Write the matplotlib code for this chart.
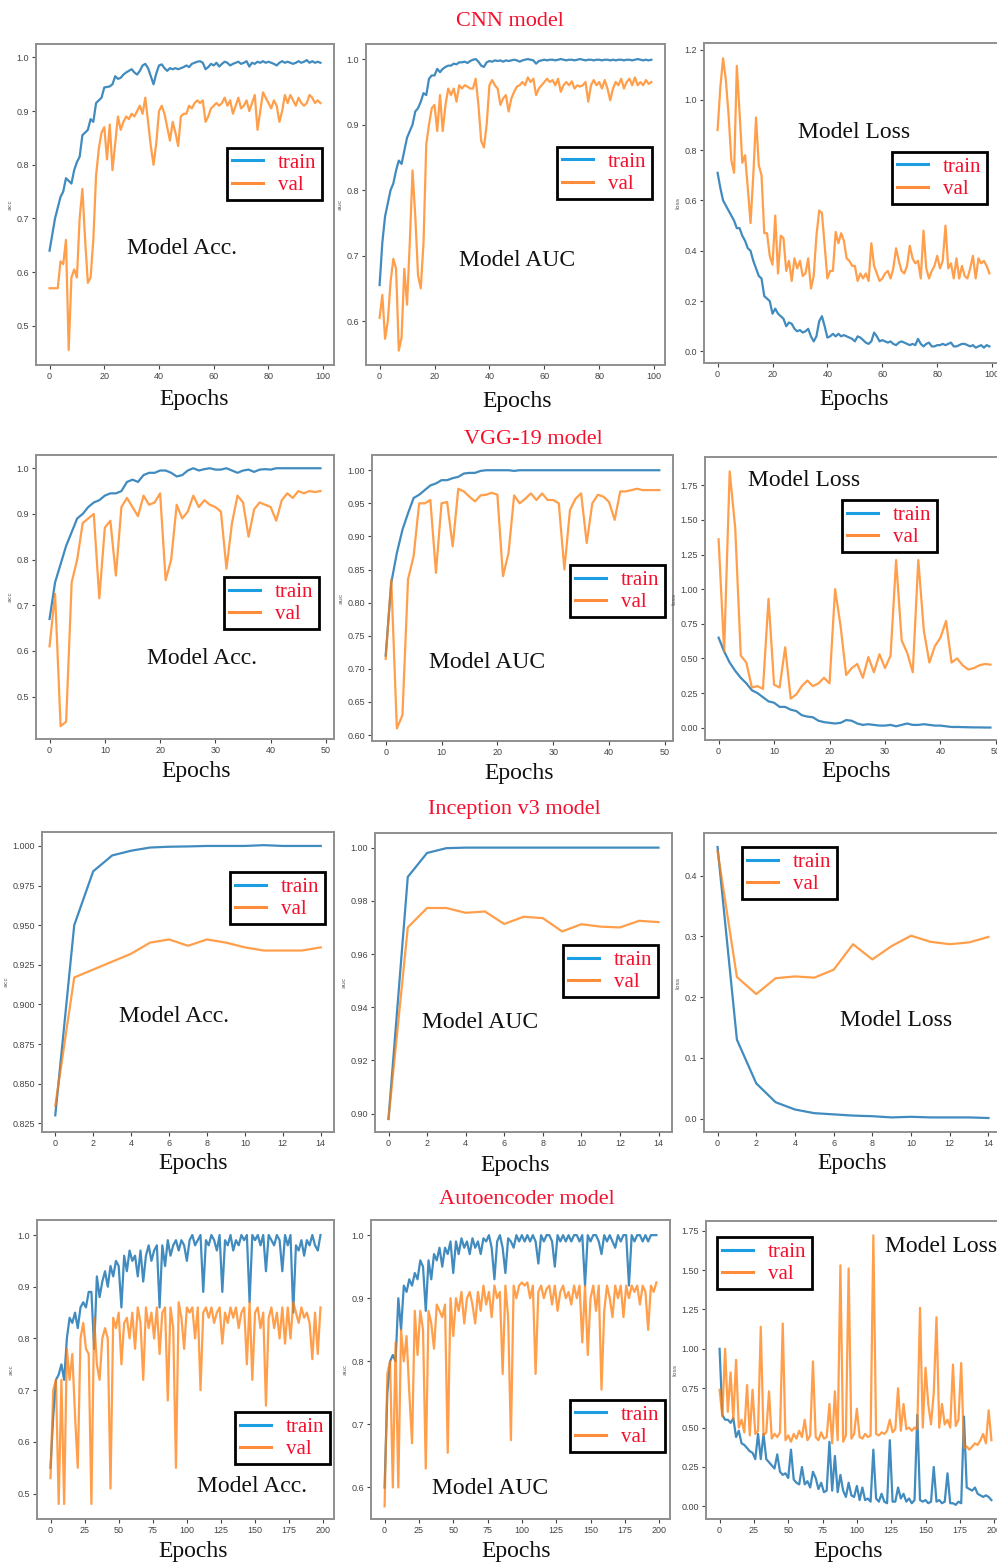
import numpy as np
import matplotlib
matplotlib.use("Agg")
import matplotlib.pyplot as plt
from matplotlib.lines import Line2D

W, H = 997, 1565

# ---------------- CNN (100 epochs) ----------------
cnn_epochs = np.arange(100)
cnn_acc_train = [
    0.64, 0.67, 0.70, 0.72, 0.74, 0.75, 0.775, 0.77, 0.765, 0.79,
    0.805, 0.815, 0.855, 0.86, 0.865, 0.885, 0.88, 0.915, 0.92, 0.925,
    0.944, 0.945, 0.946, 0.95, 0.965, 0.96, 0.962, 0.968, 0.972, 0.975,
    0.978, 0.972, 0.968, 0.975, 0.985, 0.988, 0.98, 0.965, 0.95, 0.97,
    0.985, 0.987, 0.98, 0.975, 0.98, 0.978, 0.98, 0.978, 0.98, 0.982,
    0.985, 0.982, 0.988, 0.99, 0.992, 0.993, 0.99, 0.978, 0.982, 0.988,
    0.985, 0.99, 0.983, 0.988, 0.992, 0.99, 0.985, 0.988, 0.99, 0.992,
    0.988, 0.99, 0.993, 0.983, 0.99, 0.988, 0.992, 0.99, 0.993, 0.99,
    0.992, 0.99, 0.988, 0.985, 0.99, 0.993, 0.99, 0.992, 0.99, 0.988,
    0.99, 0.993, 0.99, 0.992, 0.995, 0.99, 0.993, 0.99, 0.992, 0.99]
cnn_acc_val = [
    0.57, 0.57, 0.57, 0.57, 0.62, 0.615, 0.66, 0.455, 0.59, 0.605,
    0.59, 0.70, 0.755, 0.66, 0.58, 0.59, 0.66, 0.78, 0.83, 0.86,
    0.87, 0.81, 0.875, 0.79, 0.84, 0.89, 0.865, 0.88, 0.89, 0.885,
    0.895, 0.89, 0.90, 0.91, 0.895, 0.925, 0.88, 0.835, 0.80, 0.84,
    0.90, 0.91, 0.895, 0.87, 0.845, 0.88, 0.86, 0.835, 0.89, 0.895,
    0.895, 0.91, 0.905, 0.915, 0.92, 0.915, 0.92, 0.88, 0.89, 0.905,
    0.91, 0.915, 0.91, 0.915, 0.925, 0.91, 0.92, 0.895, 0.91, 0.925,
    0.905, 0.91, 0.92, 0.90, 0.915, 0.93, 0.865, 0.90, 0.935, 0.925,
    0.915, 0.905, 0.92, 0.91, 0.88, 0.90, 0.93, 0.915, 0.93, 0.92,
    0.91, 0.925, 0.915, 0.91, 0.915, 0.93, 0.925, 0.915, 0.92, 0.915]
cnn_auc_train = [
    0.655, 0.72, 0.76, 0.78, 0.80, 0.81, 0.83, 0.845, 0.84, 0.86,
    0.88, 0.89, 0.90, 0.92, 0.925, 0.935, 0.948, 0.945, 0.97, 0.975,
    0.975, 0.985, 0.98, 0.985, 0.988, 0.99, 0.99, 0.993, 0.992, 0.995,
    0.995, 0.996, 0.994, 0.997, 0.999, 1.0, 0.996, 0.99, 0.988, 0.995,
    0.997, 0.996, 0.998, 0.997, 0.998, 0.996, 0.998, 0.997, 0.998, 0.999,
    0.998, 0.996, 0.998, 0.999, 1.0, 0.999, 0.998, 0.993, 0.997, 0.998,
    0.999, 0.998, 0.999, 0.999, 0.998, 0.999, 1.0, 0.999, 0.998, 0.999,
    0.999, 0.998, 0.999, 1.0, 0.999, 0.998, 0.999, 0.999, 0.998, 0.999,
    0.999, 0.998, 0.999, 0.999, 0.998, 0.999, 0.998, 0.999, 0.999, 0.998,
    0.999, 0.999, 0.998, 0.999, 1.0, 0.999, 0.998, 0.999, 0.998, 0.999]
cnn_auc_val = [
    0.605, 0.64, 0.573, 0.60, 0.66, 0.695, 0.68, 0.555, 0.575, 0.68,
    0.625, 0.72, 0.83, 0.76, 0.67, 0.65, 0.72, 0.87, 0.90, 0.925,
    0.93, 0.89, 0.945, 0.89, 0.93, 0.955, 0.945, 0.955, 0.935, 0.96,
    0.955, 0.96, 0.958, 0.955, 0.955, 0.97, 0.93, 0.875, 0.865, 0.90,
    0.96, 0.968, 0.96, 0.955, 0.93, 0.94, 0.945, 0.92, 0.94, 0.95,
    0.958, 0.96, 0.965, 0.96, 0.972, 0.965, 0.97, 0.945, 0.955, 0.96,
    0.965, 0.97, 0.965, 0.968, 0.96, 0.97, 0.95, 0.96, 0.965, 0.96,
    0.966, 0.955, 0.96, 0.958, 0.96, 0.965, 0.935, 0.96, 0.968, 0.96,
    0.965, 0.955, 0.968, 0.955, 0.937, 0.955, 0.965, 0.96, 0.97, 0.955,
    0.965, 0.97, 0.96, 0.972, 0.96, 0.965, 0.96, 0.968, 0.962, 0.965]
cnn_loss_train = [
    0.71, 0.65, 0.60, 0.58, 0.56, 0.54, 0.52, 0.49, 0.49, 0.46,
    0.44, 0.41, 0.40, 0.36, 0.33, 0.30, 0.29, 0.22, 0.21, 0.20,
    0.15, 0.17, 0.15, 0.14, 0.13, 0.10, 0.115, 0.11, 0.09, 0.08,
    0.085, 0.075, 0.08, 0.09, 0.06, 0.04, 0.06, 0.12, 0.14, 0.10,
    0.055, 0.06, 0.07, 0.06, 0.07, 0.06, 0.065, 0.06, 0.055, 0.05,
    0.04, 0.06, 0.055, 0.045, 0.035, 0.03, 0.04, 0.075, 0.06, 0.04,
    0.045, 0.04, 0.035, 0.04, 0.03, 0.025, 0.035, 0.04, 0.035, 0.03,
    0.025, 0.03, 0.025, 0.05, 0.03, 0.02, 0.03, 0.035, 0.02, 0.02,
    0.025, 0.025, 0.03, 0.025, 0.03, 0.035, 0.02, 0.02, 0.025, 0.03,
    0.03, 0.025, 0.02, 0.025, 0.015, 0.02, 0.025, 0.015, 0.025, 0.02]
cnn_loss_val = [
    0.88, 1.05, 1.165, 1.08, 0.94, 0.76, 0.71, 1.135, 0.95, 0.75,
    0.78, 0.65, 0.51, 0.70, 0.93, 0.74, 0.70, 0.47, 0.47, 0.38,
    0.345, 0.54, 0.31, 0.46, 0.45, 0.32, 0.36, 0.28, 0.37, 0.33,
    0.36, 0.30, 0.31, 0.37, 0.25, 0.30, 0.46, 0.56, 0.55, 0.42,
    0.29, 0.32, 0.32, 0.475, 0.43, 0.47, 0.44, 0.37, 0.36, 0.34,
    0.34, 0.28, 0.31, 0.29, 0.31, 0.28, 0.43, 0.34, 0.31, 0.28,
    0.29, 0.31, 0.32, 0.29, 0.33, 0.41, 0.36, 0.32, 0.31, 0.34,
    0.42, 0.37, 0.35, 0.36, 0.29, 0.48, 0.33, 0.29, 0.32, 0.34,
    0.38, 0.33, 0.36, 0.50, 0.33, 0.35, 0.29, 0.37, 0.29, 0.34,
    0.30, 0.29, 0.33, 0.38, 0.29, 0.37, 0.35, 0.36, 0.34, 0.31]

# ---------------- VGG-19 (50 epochs) ----------------
vgg_epochs = np.arange(50)
vgg_acc_train = [
    0.67, 0.75, 0.79, 0.83, 0.86, 0.89, 0.90, 0.915, 0.925, 0.93,
    0.94, 0.945, 0.945, 0.95, 0.97, 0.975, 0.97, 0.985, 0.99, 0.99,
    0.995, 0.995, 0.99, 0.982, 0.985, 0.995, 1.0, 0.995, 0.998, 1.0,
    0.997, 0.997, 1.0, 0.995, 0.99, 0.995, 0.997, 0.992, 0.997, 0.998,
    0.997, 1.0, 1.0, 1.0, 1.0, 1.0, 1.0, 1.0, 1.0, 1.0]
vgg_acc_val = [
    0.61, 0.725, 0.435, 0.445, 0.75, 0.80, 0.88, 0.89, 0.90, 0.715,
    0.87, 0.885, 0.765, 0.915, 0.935, 0.915, 0.895, 0.94, 0.92, 0.925,
    0.945, 0.755, 0.80, 0.92, 0.89, 0.905, 0.94, 0.915, 0.93, 0.92,
    0.915, 0.905, 0.78, 0.88, 0.94, 0.925, 0.85, 0.91, 0.925, 0.92,
    0.915, 0.885, 0.93, 0.945, 0.935, 0.95, 0.945, 0.95, 0.948, 0.95]
vgg_auc_train = [
    0.72, 0.83, 0.875, 0.91, 0.935, 0.958, 0.963, 0.97, 0.977, 0.98,
    0.985, 0.985, 0.988, 0.99, 0.995, 0.996, 0.996, 0.999, 1.0, 1.0,
    1.0, 1.0, 1.0, 0.999, 1.0, 1.0, 1.0, 1.0, 1.0, 1.0,
    1.0, 1.0, 1.0, 1.0, 1.0, 1.0, 1.0, 1.0, 1.0, 1.0,
    1.0, 1.0, 1.0, 1.0, 1.0, 1.0, 1.0, 1.0, 1.0, 1.0]
vgg_auc_val = [
    0.715, 0.835, 0.61, 0.63, 0.835, 0.87, 0.95, 0.95, 0.955, 0.845,
    0.95, 0.952, 0.885, 0.972, 0.968, 0.96, 0.953, 0.962, 0.963, 0.966,
    0.963, 0.84, 0.875, 0.962, 0.95, 0.957, 0.965, 0.955, 0.965, 0.955,
    0.955, 0.95, 0.85, 0.94, 0.957, 0.965, 0.89, 0.95, 0.963, 0.96,
    0.952, 0.925, 0.968, 0.968, 0.97, 0.972, 0.97, 0.97, 0.97, 0.97]
vgg_loss_train = [
    0.65, 0.55, 0.47, 0.41, 0.36, 0.32, 0.27, 0.25, 0.22, 0.19,
    0.18, 0.15, 0.15, 0.13, 0.12, 0.09, 0.08, 0.075, 0.05, 0.04,
    0.035, 0.03, 0.035, 0.055, 0.05, 0.03, 0.02, 0.025, 0.02, 0.015,
    0.015, 0.02, 0.01, 0.02, 0.03, 0.02, 0.02, 0.025, 0.02, 0.015,
    0.015, 0.01, 0.005, 0.005, 0.004, 0.003, 0.002, 0.002, 0.001, 0.001]
vgg_loss_val = [
    1.36, 0.55, 1.85, 1.44, 0.52, 0.47, 0.29, 0.30, 0.28, 0.93,
    0.31, 0.29, 0.58, 0.21, 0.24, 0.30, 0.34, 0.30, 0.32, 0.36,
    0.32, 1.00, 0.73, 0.38, 0.43, 0.46, 0.36, 0.51, 0.40, 0.53,
    0.43, 0.52, 1.21, 0.63, 0.54, 0.40, 1.21, 0.70, 0.47, 0.59,
    0.65, 0.77, 0.47, 0.50, 0.45, 0.42, 0.43, 0.45, 0.46, 0.455]

# ---------------- Inception v3 (15 epochs) ----------------
inc_epochs = np.arange(15)
inc_acc_train = [0.83, 0.95, 0.984, 0.994, 0.997, 0.999, 0.9995, 0.9997,
                 1.0, 1.0, 1.0, 1.0005, 1.0, 1.0, 1.0]
inc_acc_val = [0.836, 0.917, 0.922, 0.927, 0.932, 0.939, 0.941, 0.937,
               0.941, 0.939, 0.936, 0.934, 0.934, 0.934, 0.936]
inc_auc_train = [0.898, 0.989, 0.998, 0.9998, 1.0, 1.0, 1.0, 1.0,
                 1.0, 1.0, 1.0, 1.0, 1.0, 1.0, 1.0]
inc_auc_val = [0.898, 0.970, 0.9773, 0.9773, 0.9755, 0.976, 0.9713, 0.974,
               0.9735, 0.9685, 0.9712, 0.9703, 0.970, 0.9725, 0.972]
inc_loss_train = [0.447, 0.13, 0.058, 0.027, 0.015, 0.009, 0.007, 0.005,
                  0.004, 0.002, 0.003, 0.002, 0.002, 0.002, 0.001]
inc_loss_val = [0.44, 0.233, 0.205, 0.231, 0.234, 0.232, 0.245, 0.287,
                0.262, 0.284, 0.301, 0.291, 0.287, 0.290, 0.299]

# ---------------- Autoencoder (200 epochs, read every 2nd epoch) ----------------
ae_epochs = np.arange(0, 200, 2)
ae_acc_train = [
    0.55, 0.65, 0.72, 0.73, 0.75, 0.72, 0.80, 0.84, 0.83, 0.85,
    0.82, 0.86, 0.87, 0.86, 0.89, 0.89, 0.78, 0.92, 0.88, 0.91,
    0.93, 0.90, 0.94, 0.92, 0.95, 0.94, 0.86, 0.96, 0.93, 0.97,
    0.95, 0.96, 0.92, 0.97, 0.91, 0.96, 0.98, 0.95, 0.97, 0.98,
    0.86, 0.98, 0.94, 0.99, 0.96, 0.98, 0.99, 0.97, 0.99, 0.98,
    0.95, 0.99, 1.0, 0.98, 0.99, 1.0, 0.89, 0.99, 0.98, 1.0,
    0.99, 0.97, 1.0, 0.89, 0.99, 0.98, 1.0, 0.97, 0.99, 0.98,
    1.0, 0.99, 1.0, 0.87, 1.0, 0.99, 1.0, 0.98, 1.0, 0.93,
    1.0, 0.99, 0.98, 1.0, 0.99, 0.93, 1.0, 0.98, 1.0, 0.85,
    0.98, 0.97, 0.99, 0.96, 0.99, 0.98, 1.0, 0.98, 0.97, 1.0]
ae_acc_val = [
    0.53, 0.70, 0.72, 0.48, 0.72, 0.48, 0.78, 0.72, 0.77, 0.65,
    0.55, 0.80, 0.83, 0.78, 0.77, 0.48, 0.84, 0.75, 0.72, 0.80,
    0.82, 0.80, 0.51, 0.84, 0.82, 0.85, 0.75, 0.83, 0.84, 0.80,
    0.85, 0.78, 0.86, 0.83, 0.72, 0.86, 0.82, 0.85, 0.80, 0.86,
    0.77, 0.85, 0.86, 0.68, 0.86, 0.82, 0.55, 0.87, 0.84, 0.78,
    0.86, 0.85, 0.86, 0.80, 0.86, 0.70, 0.85, 0.86, 0.84, 0.86,
    0.83, 0.85, 0.86, 0.79, 0.85, 0.83, 0.86, 0.84, 0.86, 0.82,
    0.85, 0.86, 0.75, 0.87, 0.72, 0.85, 0.86, 0.82, 0.85, 0.67,
    0.84, 0.86, 0.82, 0.85, 0.80, 0.86, 0.79, 0.86, 0.80, 0.87,
    0.85, 0.83, 0.86, 0.84, 0.85, 0.83, 0.76, 0.85, 0.77, 0.86]
ae_auc_train = [
    0.60, 0.75, 0.80, 0.81, 0.80, 0.90, 0.85, 0.92, 0.91, 0.93,
    0.92, 0.94, 0.93, 0.96, 0.95, 0.88, 0.96, 0.93, 0.97, 0.96,
    0.98, 0.95, 0.98, 0.97, 0.99, 0.94, 0.99, 0.97, 0.995, 0.98,
    0.99, 0.97, 0.995, 0.98, 0.99, 0.97, 0.995, 0.99, 1.0, 0.98,
    0.93, 0.99, 1.0, 0.98, 0.94, 0.995, 0.99, 0.98, 1.0, 0.99,
    1.0, 0.99, 1.0, 0.99, 1.0, 0.99, 0.955, 1.0, 0.99, 1.0,
    1.0, 0.99, 0.95, 1.0, 0.99, 1.0, 0.99, 1.0, 0.99, 1.0,
    1.0, 0.99, 1.0, 0.92, 1.0, 0.99, 1.0, 1.0, 0.99, 0.97,
    1.0, 0.99, 1.0, 0.99, 0.98, 1.0, 0.99, 1.0, 1.0, 0.92,
    1.0, 0.99, 1.0, 1.0, 0.99, 1.0, 0.99, 1.0, 1.0, 1.0]
ae_auc_val = [
    0.57, 0.78, 0.80, 0.60, 0.83, 0.60, 0.85, 0.80, 0.84, 0.75,
    0.67, 0.88, 0.81, 0.88, 0.85, 0.63, 0.88, 0.86, 0.82, 0.89,
    0.88, 0.87, 0.89, 0.655, 0.90, 0.84, 0.90, 0.88, 0.91, 0.86,
    0.90, 0.91, 0.89, 0.86, 0.91, 0.88, 0.92, 0.89, 0.91, 0.87,
    0.92, 0.90, 0.91, 0.78, 0.92, 0.87, 0.675, 0.92, 0.90, 0.92,
    0.925, 0.92, 0.925, 0.90, 0.92, 0.78, 0.91, 0.92, 0.90, 0.915,
    0.92, 0.89, 0.92, 0.88, 0.91, 0.92, 0.90, 0.91, 0.89, 0.92,
    0.90, 0.92, 0.83, 0.92, 0.81, 0.90, 0.92, 0.88, 0.92, 0.755,
    0.88, 0.92, 0.90, 0.87, 0.92, 0.90, 0.92, 0.87, 0.92, 0.90,
    0.92, 0.91, 0.92, 0.89, 0.92, 0.91, 0.85, 0.92, 0.91, 0.925]
ae_loss_train = [
    1.00, 0.58, 0.55, 0.55, 0.53, 0.56, 0.44, 0.48, 0.40, 0.39,
    0.37, 0.35, 0.34, 0.30, 0.46, 0.30, 0.46, 0.30, 0.28, 0.26,
    0.24, 0.33, 0.22, 0.20, 0.21, 0.18, 0.36, 0.17, 0.15, 0.14,
    0.25, 0.14, 0.16, 0.12, 0.22, 0.18, 0.11, 0.15, 0.09, 0.10,
    0.41, 0.10, 0.32, 0.09, 0.20, 0.10, 0.06, 0.15, 0.07, 0.06,
    0.13, 0.04, 0.12, 0.04, 0.05, 0.03, 0.36, 0.05, 0.03, 0.08,
    0.03, 0.02, 0.42, 0.03, 0.03, 0.12, 0.05, 0.08, 0.03, 0.05,
    0.02, 0.04, 0.58, 0.04, 0.03, 0.04, 0.02, 0.03, 0.25, 0.03,
    0.04, 0.02, 0.03, 0.21, 0.02, 0.02, 0.01, 0.03, 0.02, 0.57,
    0.12, 0.11, 0.10, 0.12, 0.08, 0.07, 0.06, 0.07, 0.06, 0.04]
ae_loss_val = [
    0.74, 0.57, 1.00, 0.60, 0.85, 0.55, 0.93, 0.50, 0.55, 0.47,
    0.77, 0.45, 0.74, 0.46, 0.48, 1.14, 0.45, 0.47, 0.73, 0.43,
    0.46, 0.44, 0.47, 1.16, 0.42, 0.45, 0.41, 0.46, 0.43, 0.48,
    0.44, 0.55, 0.42, 0.45, 0.92, 0.44, 0.42, 0.47, 0.43, 0.44,
    0.65, 0.40, 0.73, 0.42, 1.53, 0.41, 0.45, 1.51, 0.43, 0.46,
    0.62, 0.44, 0.43, 0.46, 0.44, 0.45, 1.72, 0.46, 0.45, 0.47,
    0.46, 0.48, 0.55, 0.47, 0.49, 0.75, 0.48, 0.65, 0.49, 0.50,
    0.48, 0.50, 0.49, 1.26, 0.50, 0.88, 0.65, 0.52, 0.72, 1.20,
    0.50, 0.65, 0.52, 0.55, 0.50, 0.90, 0.51, 0.55, 0.91, 0.37,
    0.38, 0.36, 0.38, 0.40, 0.39, 0.42, 0.46, 0.40, 0.61, 0.42]

row_titles = ["CNN model", "VGG-19 model", "Inception v3 model", "Autoencoder model"]

BLUE = "#1f77b4"
ORANGE = "#ff7f0e"
RED = "#f5102e"
SERIF = ["Liberation Serif", "DejaVu Serif"]
TICKFONT = ["Liberation Sans Narrow", "Liberation Sans", "DejaVu Sans"]

fig = plt.figure(figsize=(W / 100, H / 100), dpi=100)
fig.patch.set_facecolor("white")


def fx(px):
    return px / W


def fy(py):
    return 1 - py / H


def panel(l, t, r, b, x, tr, va, ylim, yticks, xticks, ylab,
          leg_lt, name, name_c, ep_c):
    ax = fig.add_axes([fx(l), fy(b), (r - l) / W, (b - t) / H])
    ax.plot(x, tr, color=BLUE, lw=1.6, alpha=0.85)
    ax.plot(x, va, color=ORANGE, lw=1.6, alpha=0.75)
    ax.set_ylim(*ylim)
    ax.set_xticks(xticks)
    ax.set_yticks(yticks)
    ax.margins(x=0.05)
    for s in ax.spines.values():
        s.set_color("#8f8f8f")
        s.set_linewidth(1.4)
    ax.tick_params(labelsize=6.5, colors="#444444", length=3, width=0.8, pad=2)
    for lab in ax.get_xticklabels() + ax.get_yticklabels():
        lab.set_family(TICKFONT)
    ax.set_ylabel(ylab, fontsize=4.5, color="#555555", labelpad=3)
    handles = [Line2D([], [], color="#1c9fe2", lw=2.2),
               Line2D([], [], color="#ff8c3a", lw=2.2)]
    leg = ax.legend(handles, ["train", "val"], loc="upper left",
                    bbox_to_anchor=(fx(leg_lt[0]), fy(leg_lt[1])),
                    bbox_transform=fig.transFigure, borderaxespad=0,
                    fancybox=False, framealpha=1, handlelength=1.5,
                    handletextpad=0.7, borderpad=0.25, labelspacing=0.12,
                    prop={"family": SERIF, "size": 15})
    leg.get_frame().set_edgecolor("black")
    leg.get_frame().set_linewidth(2)
    for txt in leg.get_texts():
        txt.set_color(RED)
    fig.text(fx(name_c[0]), fy(name_c[1]), name, family=SERIF, fontsize=17,
             color="#111111", ha="center", va="center")
    fig.text(fx(ep_c[0]), fy(ep_c[1]), "Epochs", family=SERIF, fontsize=17,
             color="#111111", ha="center", va="center")
    return ax


t100 = [0, 20, 40, 60, 80, 100]
t50 = [0, 10, 20, 30, 40, 50]
t15 = [0, 2, 4, 6, 8, 10, 12, 14]
t200 = [0, 25, 50, 75, 100, 125, 150, 175, 200]

# row 1: CNN
panel(36, 44, 334, 365, cnn_epochs, cnn_acc_train, cnn_acc_val, (0.427, 1.025),
      [0.5, 0.6, 0.7, 0.8, 0.9, 1.0], t100, "acc", (227, 148), "Model Acc.", (182, 249), (194, 400))
panel(366, 44, 665, 365, cnn_epochs, cnn_auc_train, cnn_auc_val, (0.533, 1.023),
      [0.6, 0.7, 0.8, 0.9, 1.0], t100, "auc", (557, 147), "Model AUC", (517, 261), (517, 401))
panel(704, 43, 1003, 363, cnn_epochs, cnn_loss_train, cnn_loss_val, (-0.046, 1.226),
      [0.0, 0.2, 0.4, 0.6, 0.8, 1.0, 1.2], t100, "loss", (892, 152), "Model Loss", (854, 133), (854, 400))

# row 2: VGG-19
panel(36, 455, 334, 739, vgg_epochs, vgg_acc_train, vgg_acc_val, (0.407, 1.029),
      [0.5, 0.6, 0.7, 0.8, 0.9, 1.0], t50, "acc", (224, 577), "Model Acc.", (202, 658), (196, 771))
panel(372, 455, 673, 741, vgg_epochs, vgg_auc_train, vgg_auc_val, (0.591, 1.023),
      [0.60, 0.65, 0.70, 0.75, 0.80, 0.85, 0.90, 0.95, 1.00], t50, "auc", (570, 565),
      "Model AUC", (487, 662), (519, 773))
panel(705, 457, 1004, 740, vgg_epochs, vgg_loss_train, vgg_loss_val, (-0.089, 1.954),
      [0.0, 0.25, 0.5, 0.75, 1.0, 1.25, 1.5, 1.75], t50, "loss", (842, 500),
      "Model Loss", (804, 480), (856, 771))

# row 3: Inception v3
panel(42, 832, 334, 1132, inc_epochs, inc_acc_train, inc_acc_val, (0.8195, 1.0088),
      [0.825, 0.85, 0.875, 0.9, 0.925, 0.95, 0.975, 1.0], t15, "acc", (230, 872),
      "Model Acc.", (174, 1017), (193, 1163))
panel(375, 833, 672, 1132, inc_epochs, inc_auc_train, inc_auc_val, (0.8931, 1.0055),
      [0.90, 0.92, 0.94, 0.96, 0.98, 1.00], t15, "auc", (563, 945),
      "Model AUC", (480, 1022), (515, 1165))
panel(704, 833, 1002, 1132, inc_epochs, inc_loss_train, inc_loss_val, (-0.022, 0.47),
      [0.0, 0.1, 0.2, 0.3, 0.4], t15, "loss", (742, 847),
      "Model Loss", (896, 1020), (852, 1163))

# row 4: Autoencoder
panel(37, 1220, 334, 1519, ae_epochs, ae_acc_train, ae_acc_val, (0.451, 1.029),
      [0.5, 0.6, 0.7, 0.8, 0.9, 1.0], t200, "acc", (235, 1412),
      "Model Acc.", (252, 1487), (193, 1551))
panel(371, 1220, 670, 1519, ae_epochs, ae_auc_train, ae_auc_val, (0.55, 1.024),
      [0.6, 0.7, 0.8, 0.9, 1.0], t200, "auc", (570, 1400),
      "Model AUC", (490, 1488), (516, 1552))
panel(706, 1221, 1005, 1519, ae_epochs, ae_loss_train, ae_loss_val, (-0.08, 1.811),
      [0.0, 0.25, 0.5, 0.75, 1.0, 1.25, 1.5, 1.75], t200, "loss", (717, 1237),
      "Model Loss", (941, 1247), (848, 1551))

# red row titles
for title, cx, cy in zip(row_titles, [510, 533, 514, 527], [22, 440, 810, 1200]):
    fig.text(fx(cx), fy(cy), title, family=SERIF, fontsize=16, color=RED,
             ha="center", va="center")

fig.savefig("out.png", dpi=100, facecolor="white")
